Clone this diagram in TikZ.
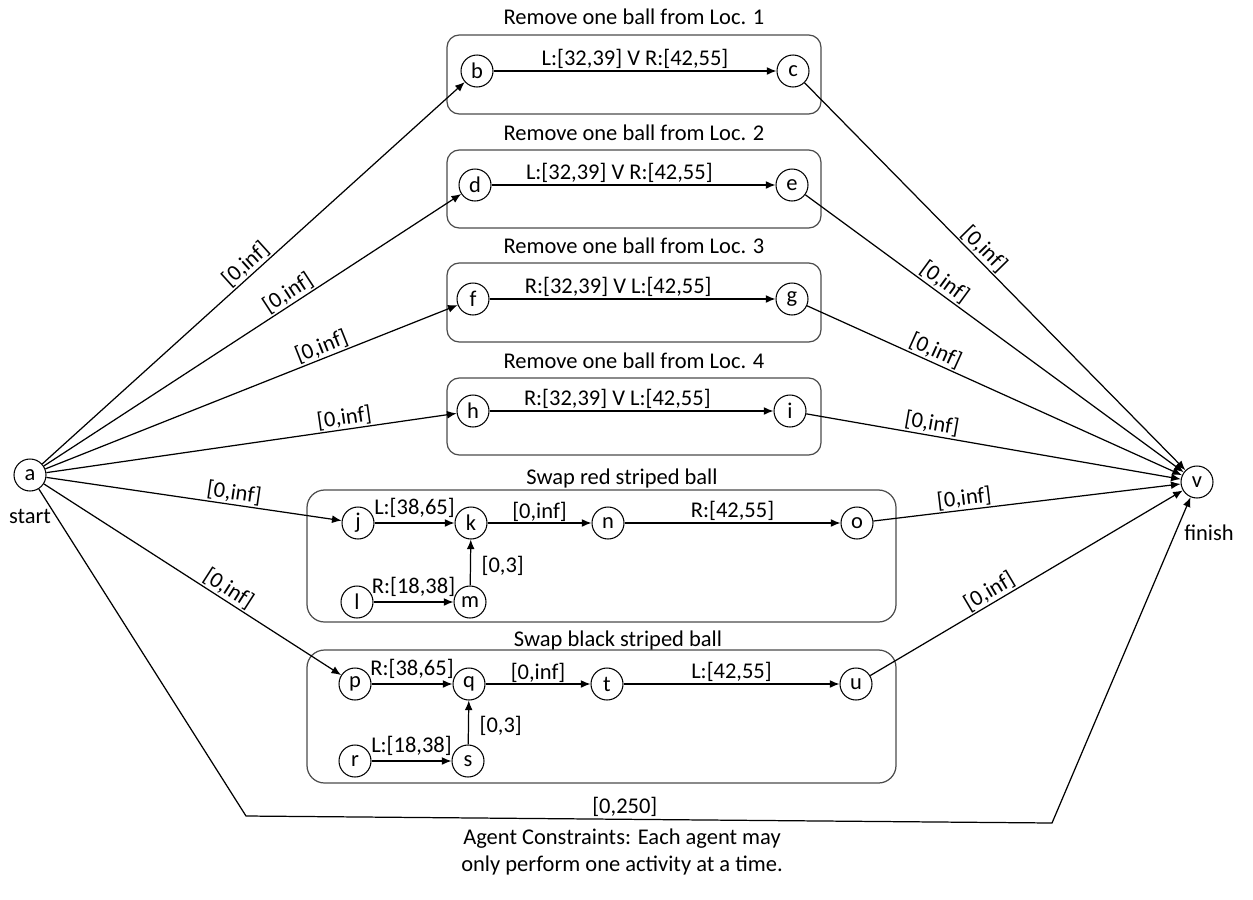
\documentclass[tikz,border=0pt]{standalone}
\usepackage{fontspec}
\setmainfont{Carlito}
\usetikzlibrary{arrows.meta}

\begin{document}
\begin{tikzpicture}[
    x=0.02cm,
    y=-0.02cm,
    every node/.style={align=center, font=\fontsize{12.8}{15}\selectfont},
    state/.style={
      draw,
      circle,
      minimum size=0.64cm,
      inner sep=0pt,
      line width=0.6pt
    },
    groupbox/.style={
      draw=black!70,
      rounded corners=7pt,
      line width=0.7pt
    },
    swapbox/.style={
      draw=black!70,
      rounded corners=10pt,
      line width=0.7pt
    },
    flow/.style={-{Latex[length=5.5pt,width=4.5pt]}, line width=0.7pt},
    note/.style={inner sep=1pt},
    slopenote/.style={sloped, above, inner sep=0.8pt}
  ]

    \useasboundingbox (0,0) rectangle (1253,899);

    % Start and finish
    \node[state] (a) at (30,475) {a};
    \node (startlabel) at (30,516) {start};
    \node[state] (v) at (1197,482) {v};
    \node (finishlabel) at (1209,533) {finish};

    % Remove-one-ball groups
    \draw[groupbox] (447,35) rectangle (821,114);
    \draw[groupbox] (447,150) rectangle (821,228);
    \draw[groupbox] (447,263) rectangle (821,342);
    \draw[groupbox] (447,378) rectangle (821,455);
    \node (loc1) at (634,17) {Remove one ball from Loc. 1};
    \node (loc2) at (634,133) {Remove one ball from Loc. 2};
    \node (loc3) at (634,246) {Remove one ball from Loc. 3};
    \node (loc4) at (634,361) {Remove one ball from Loc. 4};

    \node[state] (b) at (477,71) {b};
    \node[state] (c) at (793,71) {c};
    \node[state] (d) at (475,185) {d};
    \node[state] (e) at (792,185) {e};
    \node[state] (f) at (473,299) {f};
    \node[state] (g) at (792,299) {g};
    \node[state] (h) at (473,411) {h};
    \node[state] (i) at (790,411) {i};

    % Swap groups
    \draw[swapbox] (307,490) rectangle (896,622);
    \draw[swapbox] (307,650) rectangle (896,783);
    \node (swapred) at (622,478) {Swap red striped ball};
    \node (swapblack) at (618,640) {Swap black striped ball};

    \node[state] (j) at (358,523) {j};
    \node[state] (k) at (471,523) {k};
    \node[state] (n) at (608,523) {n};
    \node[state] (o) at (857,523) {o};
    \node[state] (l) at (357,602) {l};
    \node[state] (m) at (470,602) {m};

    \node[state] (p) at (355,684) {p};
    \node[state] (q) at (469,684) {q};
    \node[state] (t) at (607,684) {t};
    \node[state] (u) at (856,684) {u};
    \node[state] (r) at (355,761) {r};
    \node[state] (s) at (468,761) {s};

    % Activity arrows inside the groups
    \draw[flow] (b) -- (c) node[midway, above, note] {L:[32,39] V R:[42,55]};
    \draw[flow] (d) -- (e) node[pos=0.45, above, note] {L:[32,39] V R:[42,55]};
    \draw[flow] (f) -- (g) node[pos=0.45, above, note] {R:[32,39] V L:[42,55]};
    \draw[flow] (h) -- (i) node[pos=0.45, above, note] {R:[32,39] V L:[42,55]};

    \draw[flow] (j) -- (k) node[midway, above=3pt, inner sep=0pt] {L:[38,65]};
    \draw[flow] (k) -- (n) node[midway, above, inner sep=0.5pt] {[0,inf]};
    \draw[flow] (n) -- (o) node[midway, above, note] {R:[42,55]};
    \draw[flow] (l) -- (m) node[midway, above=3pt, inner sep=0pt] {R:[18,38]};
    \draw[flow] (m) -- (k) node[pos=0.43, right=6pt, inner sep=0pt] {[0,3]};

    \draw[flow] (p) -- (q) node[midway, above=3pt, inner sep=0pt] {R:[38,65]};
    \draw[flow] (q) -- (t) node[midway, above, inner sep=0.5pt] {[0,inf]};
    \draw[flow] (t) -- (u) node[midway, above, note] {L:[42,55]};
    \draw[flow] (r) -- (s) node[midway, above=3pt, inner sep=0pt] {L:[18,38]};
    \draw[flow] (s) -- (q) node[pos=0.43, right=6pt, inner sep=0pt] {[0,3]};

    % Edges out of the start
    \draw[flow] (a) -- (b) node[pos=0.5, slopenote] {[0,inf]};
    \draw[flow] (a) -- (d) node[pos=0.6, slopenote] {[0,inf]};
    \draw[flow] (a) -- (f) node[pos=0.68, slopenote] {[0,inf]};
    \draw[flow] (a) -- (h) node[pos=0.73, slopenote] {[0,inf]};
    \draw[flow] (a) -- (j) node[pos=0.63, slopenote] {[0,inf]};
    \draw[flow] (a) -- (p) node[pos=0.6, slopenote] {[0,inf]};

    % Edges into the finish
    \draw[flow] (c) -- (v) node[pos=0.45, slopenote] {[0,inf]};
    \draw[flow] (e) -- (v) node[pos=0.35, slopenote] {[0,inf]};
    \draw[flow] (g) -- (v) node[pos=0.33, slopenote] {[0,inf]};
    \draw[flow] (i) -- (v) node[pos=0.33, slopenote] {[0,inf]};
    \draw[flow] (o) -- (v) node[pos=0.3, slopenote] {[0,inf]};
    \draw[flow] (u) -- (v) node[pos=0.4, slopenote] {[0,inf]};

    % Overall deadline
    \coordinate (deadlineleft) at (246,816);
    \coordinate (deadlineright) at (1052,823);
    \draw[flow] (a) -- (deadlineleft) -- (deadlineright) node[pos=0.47, above, note] {[0,250]} -- (v);

    \node (agentnote) at (622,852) {Agent Constraints: Each agent may\\only perform one activity at a time.};
  \end{tikzpicture}
\end{document}
